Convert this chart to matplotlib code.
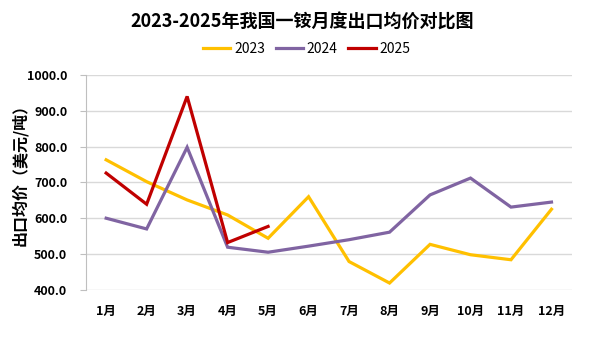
import matplotlib
matplotlib.use("Agg")
import matplotlib.pyplot as plt
from matplotlib.ticker import FormatStrFormatter

plt.rcParams['font.family'] = ['Noto Sans CJK SC', 'DejaVu Sans']

months = ["1月", "2月", "3月", "4月", "5月", "6月", "7月", "8月", "9月", "10月", "11月", "12月"]
y2023 = [763, 702, 651, 609, 544, 660, 479, 419, 527, 498, 484, 625]
y2024 = [600, 570, 798, 519, 505, 522, 540, 561, 665, 712, 631, 645]
y2025 = [726, 639, 940, 532, 577]
series_labels = ["2023", "2024", "2025"]
colors = ["#FFC000", "#8064A2", "#C00000"]

fig = plt.figure(figsize=(6.05, 3.39), dpi=100)
ax = fig.add_axes([0.142, 0.145, 0.803, 0.634])

x = list(range(len(months)))
for data, lab, c in zip([y2023, y2024, y2025], series_labels, colors):
    ax.plot(x[:len(data)], data, color=c, lw=2.3, label=lab, solid_joinstyle='miter')

ax.set_xlim(-0.5, len(months) - 0.5)
ax.set_ylim(400, 1000)
ax.set_yticks(range(400, 1001, 100))
ax.yaxis.set_major_formatter(FormatStrFormatter('%.1f'))
ax.set_xticks(x)
ax.set_xticklabels(months)
ax.grid(axis='y', color='#D9D9D9', lw=1)
ax.set_axisbelow(True)
for s in ['top', 'right', 'bottom']:
    ax.spines[s].set_visible(False)
ax.spines['left'].set_color('#BFBFBF')
ax.tick_params(axis='y', length=4.5, color='#BFBFBF', labelsize=9, pad=9)
ax.tick_params(axis='x', length=0, labelsize=9, pad=11)
for t in ax.get_xticklabels() + ax.get_yticklabels():
    t.set_fontweight('bold')

ax.set_ylabel("出口均价（美元/吨）", fontsize=11.5, fontweight='bold')
ax.yaxis.set_label_coords(-0.118, 0.555)

fig.text(0.5, 0.935, "2023-2025年我国一铵月度出口均价对比图", ha='center', va='center',
         fontsize=13, fontweight='bold')
fig.legend(loc='center', bbox_to_anchor=(0.507, 0.855), ncol=3, frameon=False,
           fontsize=10, handlelength=1.95, columnspacing=0.8, handletextpad=0.25)

fig.savefig("out.png", dpi=100)
